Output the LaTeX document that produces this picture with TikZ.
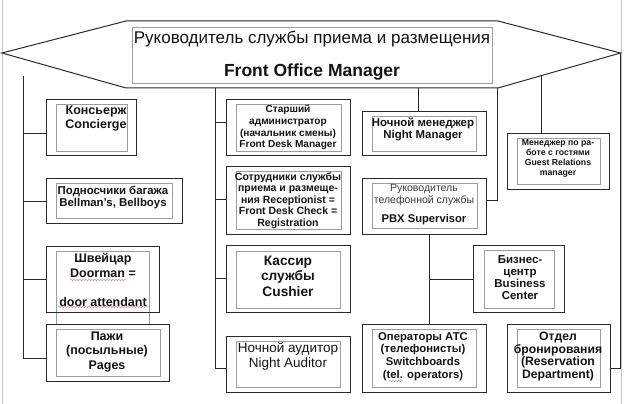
\documentclass[tikz,border=0pt]{standalone}
\usepackage{fontspec}
\setmainfont{Liberation Sans}
\usetikzlibrary{calc,decorations.pathmorphing}
\definecolor{ink}{HTML}{141414}
\definecolor{linec}{HTML}{2A2A2A}
\definecolor{innerc}{HTML}{9C9C9C}
\definecolor{framec}{HTML}{C4C4C4}
\definecolor{squig}{HTML}{E08080}
\definecolor{softink}{HTML}{3A3A3A}
\newcommand{\setfs}[2]{\fontsize{#1}{#2}\selectfont}
\begin{document}
\begin{tikzpicture}[x=1pt,y=-1pt,
  obox/.style={draw=linec, line width=1.2pt, anchor=north west, inner sep=0pt},
  ibox/.style={draw=innerc, line width=0.7pt},
  conn/.style={draw=linec, line width=1pt},
  txt/.style={text=ink, align=center, inner sep=0pt},
  squiggle/.style={draw=squig, line width=0.5pt, decorate, decoration={snake, amplitude=0.6pt, segment length=3pt}}]
\useasboundingbox (0,0) rectangle (624,404);
\fill[white] (0,0) rectangle (624,404);
% outer frame lines
\draw[framec, line width=0.8pt] (2.5,0) -- (2.5,404);
\draw[framec, line width=0.8pt] (621.5,0) -- (621.5,404);

% hexagon (Front Office Manager)
\coordinate (hexL) at (2,53);
\coordinate (hexTL) at (126,21);
\coordinate (hexTR) at (498,21);
\coordinate (hexR) at (620.5,53);
\coordinate (hexBR) at (498,88);
\coordinate (hexBL) at (126,88);
\draw[conn] (hexL) -- (hexTL) -- (hexTR) -- (hexR) -- (hexBR) -- (hexBL) -- cycle;
\node[draw=innerc, line width=0.8pt, anchor=north west, minimum width=360pt, minimum height=56pt, inner sep=0pt] (fom) at (132,27) {};
\node[txt, font=\setfs{17}{20}] (fomA) at (312,39) {Руководитель службы приема и размещения};
\node[txt, font=\setfs{17.5}{20}\bfseries] (fomB) at (312,72) {Front Office Manager};

% ---------- left column ----------
\node[obox, minimum width=90pt, minimum height=56pt] (conc) at (46,99) {};
\draw[ibox] (56,104) rectangle (127,151);
\node[txt, font=\setfs{12.5}{14}\bfseries] (concT) at (96,119) {Консьерж\\Concierge};

\node[obox, minimum width=136pt, minimum height=45pt] (bell) at (46,178) {};
\draw[ibox] (56,183) rectangle (172,218);
\node[txt, font=\setfs{11.4}{12}\bfseries] (bellT) at (113,197.5) {Подносчики багажа\\Bellman’s, Bellboys};

\draw[ibox] (56,251) rectangle (149,324);
\node[obox, minimum width=113pt, minimum height=66pt] (door) at (46,246) {};
\node[txt, font=\setfs{12.5}{14.5}\bfseries] (doorT) at (103,280) {Швейцар\\Doorman =\\[14.5pt]door attendant};
\draw[squiggle] (70,280) -- (126,280);
\draw[squiggle] (58,307) -- (148,307);

\node[obox, fill=white, minimum width=123pt, minimum height=57pt] (pages) at (46,324) {};
\draw[ibox] (56,329) rectangle (160,376);
\node[txt, font=\setfs{12.5}{14.5}\bfseries] (pagesT) at (107,352) {Пажи\\(посыльные)\\Pages};

\coordinate (lb0) at (23,76);
\coordinate (lb1) at (23,358);
\coordinate (lc1) at (23,133);
\coordinate (lc2) at (23,201);
\coordinate (lc3) at (23,279);
\draw[conn] (lb0) -- (lb1) -- (lb1 -| pages.west);
\draw[conn] (lc1) -- (lc1 -| conc.west);
\draw[conn] (lc2) -- (lc2 -| bell.west);
\draw[conn] (lc3) -- (lc3 -| door.west);

% ---------- middle column ----------
\node[obox, minimum width=124pt, minimum height=56pt] (fdm) at (226,99) {};
\draw[ibox] (236,104) rectangle (341,151);
\node[txt, font=\setfs{10.1}{11.8}\bfseries] (fdmT) at (288,127.5) {Старший\\администратор\\(начальник смены)\\Front Desk Manager};

\node[obox, minimum width=124pt, minimum height=68pt] (rec) at (226,166) {};
\draw[ibox] (236,171) rectangle (341,229);
\node[txt, font=\setfs{10.5}{11.5}\bfseries] (recT) at (288,200.5) {Сотрудники службы\\приема и размеще-\\ния Receptionist =\\Front Desk Check =\\Registration};

\node[obox, minimum width=124pt, minimum height=67pt] (cash) at (226,245) {};
\draw[ibox] (236,251) rectangle (340,308);
\node[txt, font=\setfs{13.7}{15.5}\bfseries] (cashT) at (288,276) {Кассир\\службы\\Cushier};

\node[obox, minimum width=124pt, minimum height=56pt] (aud) at (226,336) {};
\draw[ibox] (236,341) rectangle (340,387);
\node[txt, font=\setfs{13.5}{15}] (audT) at (288,356) {Ночной аудитор\\Night Auditor};

\coordinate (mb0) at (215,88);
\coordinate (mb1) at (215,368);
\coordinate (mc1) at (215,122);
\coordinate (mc2) at (215,199);
\coordinate (mc3) at (215,278);
\draw[conn] (mb0) -- (mb1) -- (mb1 -| aud.west);
\draw[conn] (mc1) -- (mc1 -| fdm.west);
\draw[conn] (mc2) -- (mc2 -| rec.west);
\draw[conn] (mc3) -- (mc3 -| cash.west);

% ---------- right-middle column ----------
\node[obox, minimum width=124pt, minimum height=44pt] (nm) at (362,111) {};
\draw[ibox] (372,116) rectangle (476,151);
\node[txt, font=\setfs{11.4}{12}\bfseries] (nmT) at (423,129.5) {Ночной менеджер\\Night Manager};

\node[obox, minimum width=124pt, minimum height=56pt] (pbx) at (362,178) {};
\draw[ibox] (372,183) rectangle (477,228);
\node[txt, font=\setfs{10.5}{12}, text=softink] (pbxA) at (424,195) {Руководитель\\телефонной службы};
\node[txt, font=\setfs{11.2}{12}\bfseries] (pbxB) at (424,220) {PBX Supervisor};

\node[obox, minimum width=124pt, minimum height=68pt] (ops) at (362,324) {};
\draw[ibox] (372,329) rectangle (476,387);
\node[txt, font=\setfs{11.3}{12.7}\bfseries] (opsT) at (423,356.5) {Операторы АТС\\(телефонисты)\\Switchboards\\(tel. operators)};
\draw[squiggle] (389,381) -- (403,381);

\node[obox, minimum width=91pt, minimum height=67pt] (bc) at (473,245) {};
\draw[ibox] (484,250) rectangle (554,308);
\node[txt, font=\setfs{11.5}{12}\bfseries] (bcT) at (520,277.5) {Бизнес-\\центр\\Business\\Center};

\node[obox, minimum width=102pt, minimum height=56pt] (gr) at (507,133) {};
\draw[ibox] (517,138) rectangle (600,184);
\node[txt, font=\setfs{8.7}{9.9}\bfseries] (grT) at (558,158.5) {Менеджер по ра-\\боте с гостями\\Guest Relations\\manager};

\node[obox, minimum width=103pt, minimum height=68pt] (res) at (507,324) {};
\draw[ibox] (517,329) rectangle (600,387);
\node[txt, font=\setfs{12.2}{12.7}\bfseries] (resT) at (558,356.5) {Отдел\\бронирования\\(Reservation\\Department)};

% connectors right side
\coordinate (nmtop) at (418,88);
\draw[conn] (nmtop) -- (nmtop |- nm.north);
\coordinate (pbxtop) at (497,88);
\coordinate (pbxc) at (497,200);
\draw[conn] (pbxtop) -- (pbxc) -- (pbxc -| pbx.east);
\coordinate (pbxs) at (429,234);
\draw[conn] (pbxs |- pbx.south) -- (pbxs |- ops.north);
\coordinate (bcj) at (429,279);
\draw[conn] (bcj) -- (bcj -| bc.west);
\coordinate (grtop) at ($(hexBR)!0.358!(hexR)$);
\draw[conn] (grtop) -- (grtop |- gr.north);
\coordinate (rb1) at (620.5,368);
\draw[conn] (hexR) -- (rb1) -- (rb1 -| res.east);
\end{tikzpicture}
\end{document}
